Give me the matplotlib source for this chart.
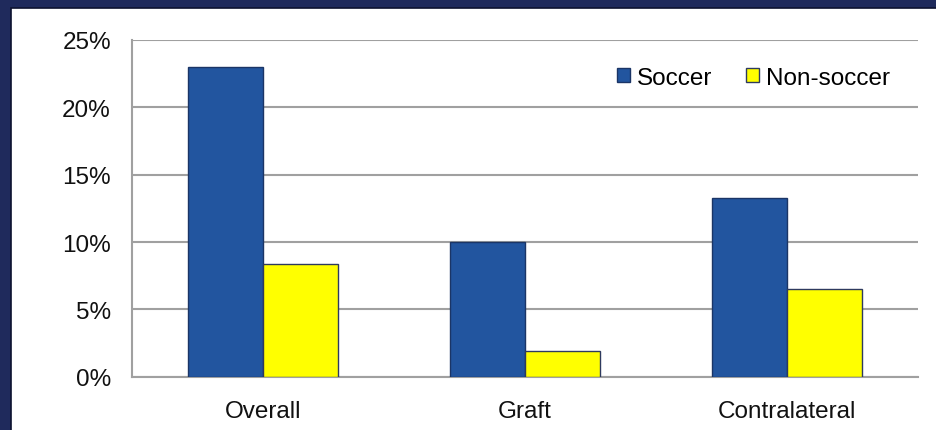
import numpy as np
import matplotlib.pyplot as plt
from matplotlib.patches import Rectangle
from matplotlib.ticker import PercentFormatter

# Share of patients (%) by group
categories = ['Overall', 'Graft', 'Contralateral']
soccer = [23.0, 10.0, 13.3]
non_soccer = [8.4, 1.9, 6.5]
series_names = ['Soccer', 'Non-soccer']

plt.rcParams['font.family'] = ['Liberation Sans', 'DejaVu Sans']

fig = plt.figure(figsize=(9.37, 4.31), dpi=100)
fig.patch.set_facecolor('#1f2a5c')
# white slide area inside the dark frame
fig.patches.append(Rectangle((11 / 937, -0.1), 1, 1.1 - 9 / 431, transform=fig.transFigure,
                             facecolor='white', edgecolor='#0d1230', linewidth=1.2, zorder=-5))

ax = fig.add_axes([0.1406, 0.1237, 0.8391, 0.7812])
x = np.arange(len(categories))
w = 0.286
ax.bar(x - w / 2, soccer, w, color='#22559f', edgecolor='#1b3566', linewidth=1.0,
       label=series_names[0], zorder=3)
ax.bar(x + w / 2, non_soccer, w, color='#ffff00', edgecolor='#2e3a5e', linewidth=1.0,
       label=series_names[1], zorder=3)

ax.set_xlim(-0.5, len(categories) - 0.5)
ax.set_ylim(0, 25)
ax.set_yticks(np.arange(0, 26, 5))
ax.yaxis.set_major_formatter(PercentFormatter(decimals=0))
ax.set_xticks(x)
ax.set_xticklabels(categories)
ax.tick_params(length=0, labelsize=17.5, colors='#111111')
ax.tick_params(axis='y', pad=15)
ax.tick_params(axis='x', pad=17)

ax.grid(axis='y', color='#a0a0a0', linewidth=1.5, zorder=0)
for side in ['top', 'right']:
    ax.spines[side].set_visible(False)
for side in ['left', 'bottom']:
    ax.spines[side].set_color('#a0a0a0')
    ax.spines[side].set_linewidth(1.5)

ax.legend(loc='upper right', bbox_to_anchor=(0.977, 0.95), ncol=2, frameon=False,
          fontsize=17.5, handlelength=0.55, handleheight=0.55, handletextpad=0.3,
          columnspacing=1.35, borderaxespad=0)

fig.savefig('out.png', dpi=100, facecolor=fig.get_facecolor())
